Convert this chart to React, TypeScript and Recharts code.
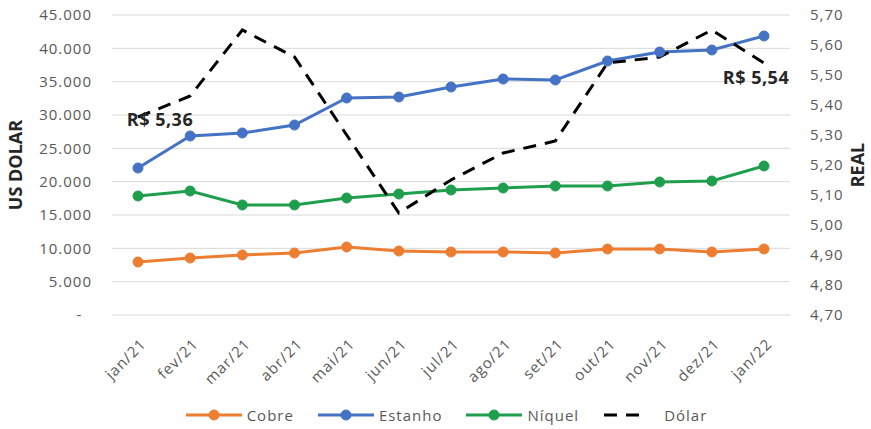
import React from 'react';
import { LineChart, Line, XAxis, YAxis, CartesianGrid, Legend, LabelList } from 'recharts';

const months = ['jan/21', 'fev/21', 'mar/21', 'abr/21', 'mai/21', 'jun/21', 'jul/21', 'ago/21', 'set/21', 'out/21', 'nov/21', 'dez/21', 'jan/22'];
const cobre = [7950, 8550, 9000, 9300, 10200, 9600, 9450, 9450, 9300, 9900, 9900, 9450, 9900];
const estanho = [22050, 26850, 27300, 28500, 32550, 32700, 34200, 35400, 35250, 38100, 39450, 39750, 41850];
const niquel = [17850, 18600, 16500, 16500, 17550, 18150, 18750, 19050, 19350, 19350, 19950, 20100, 22350];
const dolar = [5.36, 5.43, 5.65, 5.56, 5.3, 5.04, 5.15, 5.24, 5.28, 5.54, 5.56, 5.65, 5.54];
const leftTicks = [0, 5000, 10000, 15000, 20000, 25000, 30000, 35000, 40000, 45000];
const rightTicks = [4.7, 4.8, 4.9, 5.0, 5.1, 5.2, 5.3, 5.4, 5.5, 5.6, 5.7];
const legendOrder = ['Cobre', 'Estanho', 'Níquel', 'Dólar'];

const data = months.map((m, i) => ({
  month: m,
  cobre: cobre[i],
  estanho: estanho[i],
  niquel: niquel[i],
  dolar: dolar[i],
}));

const FONT = "'Open Sans', sans-serif";
const GREY = '#595959';
const C_COBRE = '#ED7D31';
const C_ESTANHO = '#4472C4';
const C_NIQUEL = '#1F9F4E';

const fmtLeft = (v: number) =>
  v === 0 ? '-\u00A0\u00A0' : String(v).replace(/\B(?=(\d{3})+(?!\d))/g, '.');
const fmtRight = (v: number) => v.toFixed(2).replace('.', ',');

const XTick = (props: any) => {
  const { x, y, payload } = props;
  return (
    <g transform={`translate(${x + 9},${y + 22})`}>
      <text
        x={0}
        y={0}
        textAnchor="end"
        transform="rotate(-45)"
        fontFamily={FONT}
        fontSize={15}
        letterSpacing={1}
        fill={GREY}
      >
        {payload.value}
      </text>
    </g>
  );
};

const DolarLabel = (props: any) => {
  const { x, y, index, value } = props;
  if (index !== 0 && index !== months.length - 1) return null;
  const txt = 'R$ ' + fmtRight(Number(value));
  const dx = index === 0 ? 22 : -8;
  const dy = index === 0 ? 9 : 21;
  return (
    <text
      x={x + dx}
      y={y + dy}
      textAnchor="middle"
      fontFamily={FONT}
      fontSize={18}
      fontWeight={700}
      letterSpacing={0.5}
      fill="#262626"
    >
      {txt}
    </text>
  );
};

const LeftTitle = (props: any) => {
  const vb = props.viewBox || { x: 0, y: 15, width: 112, height: 300 };
  const cx = 22;
  const cy = vb.y + vb.height / 2;
  return (
    <text
      x={cx}
      y={cy}
      transform={`rotate(-90, ${cx}, ${cy})`}
      textAnchor="middle"
      fontFamily={FONT}
      fontSize={18}
      fontWeight={700}
      fill="#262626"
    >
      US DOLAR
    </text>
  );
};

const RightTitle = (props: any) => {
  const vb = props.viewBox || { x: 790, y: 15, width: 81, height: 300 };
  const cx = 864;
  const cy = vb.y + vb.height / 2;
  return (
    <text
      x={cx}
      y={cy}
      transform={`rotate(-90, ${cx}, ${cy})`}
      textAnchor="middle"
      fontFamily={FONT}
      fontSize={18}
      fontWeight={700}
      fill="#262626"
    >
      REAL
    </text>
  );
};

const renderLegend = (props: any) => {
  const raw = props.payload || [];
  const payload = [...raw].sort(
    (a: any, b: any) => legendOrder.indexOf(a.value) - legendOrder.indexOf(b.value)
  );
  return (
    <div
      style={{
        display: 'flex',
        justifyContent: 'center',
        alignItems: 'center',
        height: 20,
        paddingLeft: 22,
        fontFamily: FONT,
        fontSize: 15,
        letterSpacing: 1,
        color: GREY,
      }}
    >
      {payload.map((entry: any, i: number) => {
        const dashed = entry.payload && entry.payload.strokeDasharray;
        return (
          <div key={i} style={{ display: 'flex', alignItems: 'center', marginRight: i < payload.length - 1 ? 24 : 0 }}>
            {dashed ? (
              <svg width={48} height={20} style={{ marginRight: 13 }}>
                <line x1={1} y1={10} x2={36} y2={10} stroke="#000" strokeWidth={3} strokeDasharray="13 9" />
              </svg>
            ) : (
              <svg width={56} height={20} style={{ marginRight: 5 }}>
                <line x1={0} y1={10} x2={56} y2={10} stroke={entry.color} strokeWidth={3} />
                <circle cx={28} cy={10} r={5} fill={entry.color} stroke={entry.color} />
              </svg>
            )}
            <span>{entry.value}</span>
          </div>
        );
      })}
    </div>
  );
};

export default function App() {
  return (
    <div style={{ position: 'absolute', left: 0, top: 0, width: 871, height: 429, background: '#fff' }}>
      <LineChart width={871} height={429} data={data} margin={{ top: 15, right: 0, bottom: 4, left: 0 }}>
        <CartesianGrid yAxisId="left" horizontal vertical={false} stroke="#D9D9D9" strokeWidth={1} />
        <XAxis
          dataKey="month"
          interval={0}
          axisLine={false}
          tickLine={false}
          height={90}
          padding={{ left: 26, right: 26 }}
          tick={<XTick />}
        />
        <YAxis
          yAxisId="left"
          orientation="left"
          width={112}
          domain={[0, 45000]}
          ticks={leftTicks}
          interval={0}
          tickFormatter={fmtLeft}
          axisLine={false}
          tickLine={false}
          tickMargin={14}
          tick={{ fontFamily: FONT, fontSize: 15, fill: GREY, letterSpacing: 1 }}
          label={<LeftTitle />}
        />
        <YAxis
          yAxisId="right"
          orientation="right"
          width={81}
          domain={[4.7, 5.7]}
          ticks={rightTicks}
          interval={0}
          tickFormatter={fmtRight}
          axisLine={false}
          tickLine={false}
          tickMargin={14}
          tick={{ fontFamily: FONT, fontSize: 15, fill: GREY, letterSpacing: 1, textAnchor: 'start' }}
          label={<RightTitle />}
        />
        <Legend verticalAlign="bottom" align="center" content={renderLegend} />
        <Line
          yAxisId="left"
          dataKey="cobre"
          name="Cobre"
          stroke={C_COBRE}
          strokeWidth={3}
          dot={{ r: 5, fill: C_COBRE, stroke: C_COBRE, strokeWidth: 1 }}
          activeDot={false}
          isAnimationActive={false}
        />
        <Line
          yAxisId="left"
          dataKey="estanho"
          name="Estanho"
          stroke={C_ESTANHO}
          strokeWidth={3}
          dot={{ r: 5, fill: C_ESTANHO, stroke: C_ESTANHO, strokeWidth: 1 }}
          activeDot={false}
          isAnimationActive={false}
        />
        <Line
          yAxisId="left"
          dataKey="niquel"
          name="Níquel"
          stroke={C_NIQUEL}
          strokeWidth={3}
          dot={{ r: 5, fill: C_NIQUEL, stroke: C_NIQUEL, strokeWidth: 1 }}
          activeDot={false}
          isAnimationActive={false}
        />
        <Line
          yAxisId="right"
          dataKey="dolar"
          name="Dólar"
          stroke="#000000"
          strokeWidth={3}
          strokeDasharray="13 9"
          dot={false}
          activeDot={false}
          isAnimationActive={false}
        >
          <LabelList dataKey="dolar" content={<DolarLabel />} />
        </Line>
      </LineChart>
    </div>
  );
}
